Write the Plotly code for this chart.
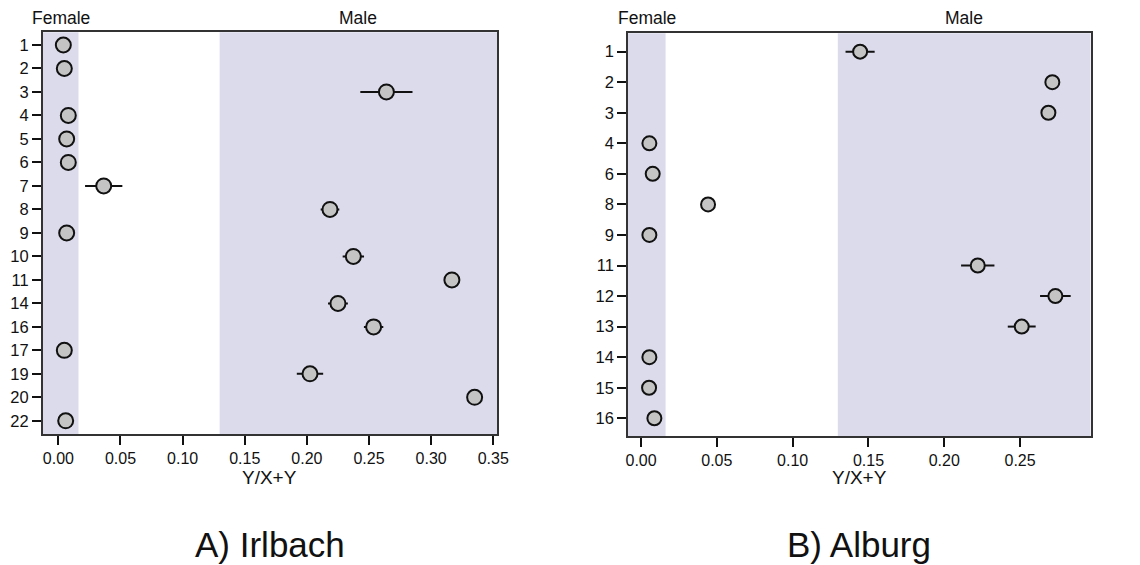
import plotly.graph_objects as go

# ---- Data: A) Irlbach ----
irl_ids = ["1", "2", "3", "4", "5", "6", "7", "8", "9", "10", "11", "14", "16", "17", "19", "20", "22"]
irl_vals = [0.004, 0.0048, 0.264, 0.008, 0.0067, 0.008, 0.0365, 0.2186, 0.0067, 0.2374, 0.3167, 0.225, 0.2537, 0.0048, 0.2025, 0.335, 0.0059]
irl_err = [0, 0, 0.021, 0, 0, 0, 0.015, 0.0075, 0, 0.0086, 0, 0.008, 0.0078, 0, 0.0106, 0, 0]

# ---- Data: B) Alburg ----
alb_ids = ["1", "2", "3", "4", "6", "8", "9", "11", "12", "13", "14", "15", "16"]
alb_vals = [0.1445, 0.2713, 0.2687, 0.0055, 0.0077, 0.0442, 0.0055, 0.2221, 0.2733, 0.2511, 0.0055, 0.0053, 0.0088]
alb_err = [0.0096, 0, 0, 0, 0, 0, 0, 0.011, 0.0101, 0.0092, 0, 0, 0]

# Sex-classification bands (Y/X+Y)
female_max = 0.0162
male_min = 0.1298

panel_titles = ["A) Irlbach", "B) Alburg"]
x_title = "Y/X+Y"
x_ticks_a = [0.0, 0.05, 0.10, 0.15, 0.20, 0.25, 0.30, 0.35]
x_ticks_b = [0.0, 0.05, 0.10, 0.15, 0.20, 0.25]

FONT = "Liberation Sans, Arial, Helvetica, sans-serif"
SHADE = "#dcdbec"
PAGE_W, PAGE_H = 1140, 565
OFF = 8  # default body margin of the page
W, H = PAGE_W - OFF, PAGE_H - OFF


def px(sx):
    return (sx - OFF) / W


def py(sy):
    return 1 - (sy - OFF) / H


fig = go.Figure()

panels = [
    dict(ids=irl_ids, vals=irl_vals, err=irl_err, xa="x", ya="y",
         xrange=[-0.0126, 0.353], xdom=[px(42.7), px(497)], ydom=[py(434), py(32.3)],
         yrange=[len(irl_ids) - 1 + 0.56, -0.54], ticks=x_ticks_a, title=panel_titles[0], msize=15),
    dict(ids=alb_ids, vals=alb_vals, err=alb_err, xa="x2", ya="y2",
         xrange=[-0.0086, 0.2966], xdom=[px(628), px(1090.7)], ydom=[py(436), py(33.3)],
         yrange=[len(alb_ids) - 1 + 0.58, -0.6], ticks=x_ticks_b, title=panel_titles[1], msize=14),
]

shapes = []
annotations = []
for i, p in enumerate(panels):
    fig.add_trace(go.Scatter(
        x=p["vals"], y=p["ids"], xaxis=p["xa"], yaxis=p["ya"], mode="markers",
        marker=dict(size=p["msize"], color="#c4c4c4", line=dict(color="#111111", width=2)),
        error_x=dict(type="data", array=p["err"], visible=True, color="#111111", thickness=2, width=0),
        showlegend=False, hoverinfo="x+y",
    ))
    ax_suffix = "" if i == 0 else "2"
    xr = p["xrange"]
    # shaded bands
    shapes.append(dict(type="rect", xref=p["xa"], yref=p["ya"] + " domain", x0=xr[0], x1=female_max,
                       y0=0, y1=1, fillcolor=SHADE, line=dict(width=0), layer="below"))
    shapes.append(dict(type="rect", xref=p["xa"], yref=p["ya"] + " domain", x0=male_min, x1=xr[1],
                       y0=0, y1=1, fillcolor=SHADE, line=dict(width=0), layer="below"))
    # band labels
    annotations.append(dict(text="Female", xref=p["xa"], yref="paper", x=(xr[0] + female_max) / 2,
                            y=py(18), showarrow=False, font=dict(family=FONT, size=17.5, color="#111"),
                            xanchor="center", yanchor="middle"))
    annotations.append(dict(text="Male", xref=p["xa"], yref="paper", x=(male_min + xr[1]) / 2,
                            y=py(18), showarrow=False, font=dict(family=FONT, size=17.5, color="#111"),
                            xanchor="center", yanchor="middle"))
    # x axis title
    annotations.append(dict(text=x_title, xref="paper", yref="paper", x=sum(p["xdom"]) / 2,
                            y=py(477), showarrow=False, font=dict(family=FONT, size=19, color="#111"),
                            xanchor="center", yanchor="middle"))
    # panel title
    annotations.append(dict(text=p["title"], xref="paper", yref="paper", x=sum(p["xdom"]) / 2,
                            y=py(544), showarrow=False, font=dict(family=FONT, size=35, color="#111"),
                            xanchor="center", yanchor="middle"))
    fig.update_layout(**{
        "xaxis" + ax_suffix: dict(
            domain=p["xdom"], anchor=p["ya"], range=xr, tickvals=p["ticks"],
            ticktext=["%.2f" % t for t in p["ticks"]],
            ticks="outside", ticklen=9, tickwidth=2, tickcolor="#111",
            showline=True, linecolor="#333", linewidth=1.5, mirror=True,
            showgrid=False, zeroline=False, automargin=False,
            tickfont=dict(family=FONT, size=16, color="#111"),
        ),
        "yaxis" + ax_suffix: dict(
            domain=p["ydom"], anchor=p["xa"], type="category",
            categoryorder="array", categoryarray=p["ids"], range=p["yrange"],
            ticks="outside", ticklen=9, tickwidth=2, tickcolor="#111",
            showline=True, linecolor="#333", linewidth=1.5, mirror=True,
            showgrid=False, zeroline=False, automargin=False,
            tickfont=dict(family=FONT, size=16.5, color="#111"),
        ),
    })

fig.update_layout(
    width=W, height=H, margin=dict(l=0, r=0, t=0, b=0, autoexpand=False),
    paper_bgcolor="white", plot_bgcolor="white",
    shapes=shapes, annotations=annotations,
)

fig.write_html("out.html")
